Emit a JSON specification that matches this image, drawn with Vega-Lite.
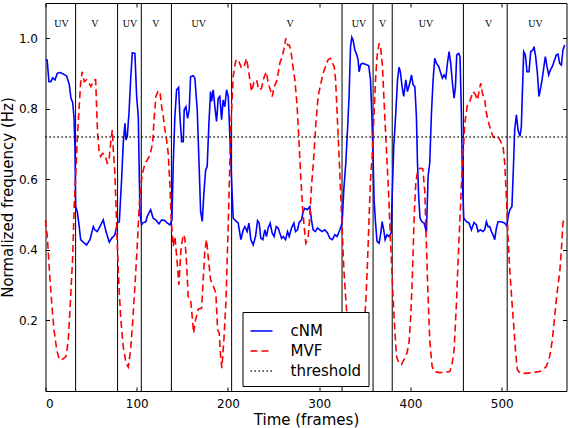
{
  "$schema": "https://vega.github.io/schema/vega-lite/v6.json",
  "width": 521,
  "height": 388,
  "autosize": "none",
  "padding": {"left": 45.5, "top": 3, "right": 1.5, "bottom": 37},
  "background": "white",
  "config": {
    "view": {"stroke": "black", "strokeWidth": 1},
    "font": "DejaVu Sans",
    "axis": {
      "grid": false,
      "domain": false,
      "tickColor": "black",
      "tickSize": -4,
      "tickWidth": 1,
      "labelColor": "black",
      "labelFont": "DejaVu Sans",
      "labelFontSize": 12,
      "titleFont": "DejaVu Sans",
      "titleFontSize": 15,
      "titleFontWeight": "normal",
      "titleColor": "black"
    }
  },
  "datasets": {
    "curves": [
      {"frame": 0, "value": 0.940, "series": "cNM"},
      {"frame": 1.8, "value": 0.938, "series": "cNM"},
      {"frame": 3.8, "value": 0.877, "series": "cNM"},
      {"frame": 6, "value": 0.877, "series": "cNM"},
      {"frame": 7.8, "value": 0.888, "series": "cNM"},
      {"frame": 10.4, "value": 0.882, "series": "cNM"},
      {"frame": 13, "value": 0.901, "series": "cNM"},
      {"frame": 16, "value": 0.903, "series": "cNM"},
      {"frame": 19.5, "value": 0.899, "series": "cNM"},
      {"frame": 23.2, "value": 0.893, "series": "cNM"},
      {"frame": 26.1, "value": 0.868, "series": "cNM"},
      {"frame": 27.9, "value": 0.830, "series": "cNM"},
      {"frame": 29.8, "value": 0.818, "series": "cNM"},
      {"frame": 31.2, "value": 0.778, "series": "cNM"},
      {"frame": 32.3, "value": 0.693, "series": "cNM"},
      {"frame": 33, "value": 0.523, "series": "cNM"},
      {"frame": 34.8, "value": 0.509, "series": "cNM"},
      {"frame": 37, "value": 0.466, "series": "cNM"},
      {"frame": 38.5, "value": 0.429, "series": "cNM"},
      {"frame": 41.4, "value": 0.422, "series": "cNM"},
      {"frame": 45, "value": 0.414, "series": "cNM"},
      {"frame": 48.7, "value": 0.429, "series": "cNM"},
      {"frame": 52.4, "value": 0.466, "series": "cNM"},
      {"frame": 54, "value": 0.457, "series": "cNM"},
      {"frame": 56.7, "value": 0.452, "series": "cNM"},
      {"frame": 59.6, "value": 0.466, "series": "cNM"},
      {"frame": 63.3, "value": 0.485, "series": "cNM"},
      {"frame": 66.3, "value": 0.452, "series": "cNM"},
      {"frame": 69.9, "value": 0.422, "series": "cNM"},
      {"frame": 72.5, "value": 0.433, "series": "cNM"},
      {"frame": 76.1, "value": 0.443, "series": "cNM"},
      {"frame": 78.7, "value": 0.476, "series": "cNM"},
      {"frame": 80.9, "value": 0.480, "series": "cNM"},
      {"frame": 83.4, "value": 0.599, "series": "cNM"},
      {"frame": 85.2, "value": 0.703, "series": "cNM"},
      {"frame": 87.1, "value": 0.759, "series": "cNM"},
      {"frame": 88.2, "value": 0.712, "series": "cNM"},
      {"frame": 89.6, "value": 0.721, "series": "cNM"},
      {"frame": 91.5, "value": 0.788, "series": "cNM"},
      {"frame": 93.3, "value": 0.882, "series": "cNM"},
      {"frame": 95.1, "value": 0.959, "series": "cNM"},
      {"frame": 98, "value": 0.957, "series": "cNM"},
      {"frame": 99.9, "value": 0.835, "series": "cNM"},
      {"frame": 101.7, "value": 0.778, "series": "cNM"},
      {"frame": 103.5, "value": 0.504, "series": "cNM"},
      {"frame": 105.4, "value": 0.471, "series": "cNM"},
      {"frame": 106.4, "value": 0.476, "series": "cNM"},
      {"frame": 110, "value": 0.480, "series": "cNM"},
      {"frame": 111.5, "value": 0.495, "series": "cNM"},
      {"frame": 115.2, "value": 0.514, "series": "cNM"},
      {"frame": 118, "value": 0.490, "series": "cNM"},
      {"frame": 121, "value": 0.485, "series": "cNM"},
      {"frame": 124.3, "value": 0.474, "series": "cNM"},
      {"frame": 127.3, "value": 0.485, "series": "cNM"},
      {"frame": 130.9, "value": 0.483, "series": "cNM"},
      {"frame": 133.4, "value": 0.476, "series": "cNM"},
      {"frame": 136.4, "value": 0.471, "series": "cNM"},
      {"frame": 138.6, "value": 0.485, "series": "cNM"},
      {"frame": 140, "value": 0.646, "series": "cNM"},
      {"frame": 141.8, "value": 0.778, "series": "cNM"},
      {"frame": 143.7, "value": 0.854, "series": "cNM"},
      {"frame": 145.9, "value": 0.861, "series": "cNM"},
      {"frame": 147.3, "value": 0.778, "series": "cNM"},
      {"frame": 149.2, "value": 0.707, "series": "cNM"},
      {"frame": 151, "value": 0.707, "series": "cNM"},
      {"frame": 152, "value": 0.797, "series": "cNM"},
      {"frame": 153.9, "value": 0.806, "series": "cNM"},
      {"frame": 155.7, "value": 0.773, "series": "cNM"},
      {"frame": 157.5, "value": 0.797, "series": "cNM"},
      {"frame": 159, "value": 0.891, "series": "cNM"},
      {"frame": 161.9, "value": 0.894, "series": "cNM"},
      {"frame": 163.7, "value": 0.887, "series": "cNM"},
      {"frame": 166.3, "value": 0.797, "series": "cNM"},
      {"frame": 168.5, "value": 0.627, "series": "cNM"},
      {"frame": 170, "value": 0.509, "series": "cNM"},
      {"frame": 171.8, "value": 0.481, "series": "cNM"},
      {"frame": 173.6, "value": 0.561, "series": "cNM"},
      {"frame": 175.5, "value": 0.627, "series": "cNM"},
      {"frame": 177.2, "value": 0.636, "series": "cNM"},
      {"frame": 179.1, "value": 0.759, "series": "cNM"},
      {"frame": 180.9, "value": 0.849, "series": "cNM"},
      {"frame": 182, "value": 0.821, "series": "cNM"},
      {"frame": 183.8, "value": 0.854, "series": "cNM"},
      {"frame": 185.6, "value": 0.806, "series": "cNM"},
      {"frame": 187.5, "value": 0.764, "series": "cNM"},
      {"frame": 189.3, "value": 0.830, "series": "cNM"},
      {"frame": 191.1, "value": 0.835, "series": "cNM"},
      {"frame": 193, "value": 0.769, "series": "cNM"},
      {"frame": 194.7, "value": 0.825, "series": "cNM"},
      {"frame": 196.5, "value": 0.806, "series": "cNM"},
      {"frame": 198.5, "value": 0.854, "series": "cNM"},
      {"frame": 200.3, "value": 0.835, "series": "cNM"},
      {"frame": 202.1, "value": 0.721, "series": "cNM"},
      {"frame": 203.9, "value": 0.599, "series": "cNM"},
      {"frame": 205.7, "value": 0.490, "series": "cNM"},
      {"frame": 209.4, "value": 0.480, "series": "cNM"},
      {"frame": 211.2, "value": 0.476, "series": "cNM"},
      {"frame": 214.1, "value": 0.429, "series": "cNM"},
      {"frame": 216.7, "value": 0.457, "series": "cNM"},
      {"frame": 218.5, "value": 0.466, "series": "cNM"},
      {"frame": 221, "value": 0.452, "series": "cNM"},
      {"frame": 222.9, "value": 0.476, "series": "cNM"},
      {"frame": 225.1, "value": 0.429, "series": "cNM"},
      {"frame": 227.6, "value": 0.414, "series": "cNM"},
      {"frame": 230.2, "value": 0.438, "series": "cNM"},
      {"frame": 232.4, "value": 0.483, "series": "cNM"},
      {"frame": 234.2, "value": 0.476, "series": "cNM"},
      {"frame": 236, "value": 0.433, "series": "cNM"},
      {"frame": 238.2, "value": 0.429, "series": "cNM"},
      {"frame": 240.4, "value": 0.457, "series": "cNM"},
      {"frame": 242.2, "value": 0.438, "series": "cNM"},
      {"frame": 244, "value": 0.462, "series": "cNM"},
      {"frame": 246.2, "value": 0.476, "series": "cNM"},
      {"frame": 248.4, "value": 0.448, "series": "cNM"},
      {"frame": 250.6, "value": 0.438, "series": "cNM"},
      {"frame": 252.8, "value": 0.466, "series": "cNM"},
      {"frame": 255, "value": 0.462, "series": "cNM"},
      {"frame": 256.8, "value": 0.448, "series": "cNM"},
      {"frame": 258.7, "value": 0.433, "series": "cNM"},
      {"frame": 260.5, "value": 0.438, "series": "cNM"},
      {"frame": 263.1, "value": 0.429, "series": "cNM"},
      {"frame": 265.3, "value": 0.452, "series": "cNM"},
      {"frame": 267.1, "value": 0.438, "series": "cNM"},
      {"frame": 269.6, "value": 0.462, "series": "cNM"},
      {"frame": 272.2, "value": 0.476, "series": "cNM"},
      {"frame": 274, "value": 0.452, "series": "cNM"},
      {"frame": 276.2, "value": 0.457, "series": "cNM"},
      {"frame": 278, "value": 0.478, "series": "cNM"},
      {"frame": 280.6, "value": 0.485, "series": "cNM"},
      {"frame": 282.4, "value": 0.509, "series": "cNM"},
      {"frame": 284.2, "value": 0.518, "series": "cNM"},
      {"frame": 287.1, "value": 0.514, "series": "cNM"},
      {"frame": 289.7, "value": 0.523, "series": "cNM"},
      {"frame": 291.5, "value": 0.485, "series": "cNM"},
      {"frame": 293.3, "value": 0.457, "series": "cNM"},
      {"frame": 295.8, "value": 0.452, "series": "cNM"},
      {"frame": 298, "value": 0.462, "series": "cNM"},
      {"frame": 300.6, "value": 0.457, "series": "cNM"},
      {"frame": 303.2, "value": 0.452, "series": "cNM"},
      {"frame": 306.1, "value": 0.457, "series": "cNM"},
      {"frame": 309.1, "value": 0.448, "series": "cNM"},
      {"frame": 311.6, "value": 0.433, "series": "cNM"},
      {"frame": 314.4, "value": 0.429, "series": "cNM"},
      {"frame": 317.1, "value": 0.443, "series": "cNM"},
      {"frame": 319.6, "value": 0.438, "series": "cNM"},
      {"frame": 322.6, "value": 0.457, "series": "cNM"},
      {"frame": 325.1, "value": 0.476, "series": "cNM"},
      {"frame": 326.9, "value": 0.570, "series": "cNM"},
      {"frame": 329.1, "value": 0.646, "series": "cNM"},
      {"frame": 331, "value": 0.740, "series": "cNM"},
      {"frame": 332.7, "value": 0.835, "series": "cNM"},
      {"frame": 334.3, "value": 0.976, "series": "cNM"},
      {"frame": 335.7, "value": 1.003, "series": "cNM"},
      {"frame": 337.1, "value": 0.995, "series": "cNM"},
      {"frame": 339, "value": 0.967, "series": "cNM"},
      {"frame": 340.9, "value": 0.955, "series": "cNM"},
      {"frame": 342.6, "value": 0.939, "series": "cNM"},
      {"frame": 343.7, "value": 0.905, "series": "cNM"},
      {"frame": 345.5, "value": 0.926, "series": "cNM"},
      {"frame": 347.3, "value": 0.929, "series": "cNM"},
      {"frame": 351, "value": 0.926, "series": "cNM"},
      {"frame": 354.3, "value": 0.922, "series": "cNM"},
      {"frame": 356.2, "value": 0.882, "series": "cNM"},
      {"frame": 357.6, "value": 0.788, "series": "cNM"},
      {"frame": 359, "value": 0.665, "series": "cNM"},
      {"frame": 360.1, "value": 0.542, "series": "cNM"},
      {"frame": 361.7, "value": 0.476, "series": "cNM"},
      {"frame": 363.4, "value": 0.424, "series": "cNM"},
      {"frame": 365.6, "value": 0.419, "series": "cNM"},
      {"frame": 367.5, "value": 0.448, "series": "cNM"},
      {"frame": 368.9, "value": 0.480, "series": "cNM"},
      {"frame": 370.7, "value": 0.457, "series": "cNM"},
      {"frame": 372.2, "value": 0.429, "series": "cNM"},
      {"frame": 374.3, "value": 0.443, "series": "cNM"},
      {"frame": 376.5, "value": 0.438, "series": "cNM"},
      {"frame": 378.8, "value": 0.448, "series": "cNM"},
      {"frame": 379.9, "value": 0.551, "series": "cNM"},
      {"frame": 381.7, "value": 0.693, "series": "cNM"},
      {"frame": 383.9, "value": 0.788, "series": "cNM"},
      {"frame": 385.8, "value": 0.882, "series": "cNM"},
      {"frame": 387.5, "value": 0.918, "series": "cNM"},
      {"frame": 388.9, "value": 0.905, "series": "cNM"},
      {"frame": 390.8, "value": 0.863, "series": "cNM"},
      {"frame": 392.6, "value": 0.835, "series": "cNM"},
      {"frame": 394.9, "value": 0.882, "series": "cNM"},
      {"frame": 396.7, "value": 0.849, "series": "cNM"},
      {"frame": 399.3, "value": 0.873, "series": "cNM"},
      {"frame": 401.1, "value": 0.896, "series": "cNM"},
      {"frame": 402.9, "value": 0.868, "series": "cNM"},
      {"frame": 404.8, "value": 0.863, "series": "cNM"},
      {"frame": 406.5, "value": 0.778, "series": "cNM"},
      {"frame": 407.6, "value": 0.655, "series": "cNM"},
      {"frame": 409, "value": 0.550, "series": "cNM"},
      {"frame": 410.5, "value": 0.490, "series": "cNM"},
      {"frame": 412.4, "value": 0.480, "series": "cNM"},
      {"frame": 414.9, "value": 0.476, "series": "cNM"},
      {"frame": 417.5, "value": 0.451, "series": "cNM"},
      {"frame": 419.3, "value": 0.608, "series": "cNM"},
      {"frame": 421.1, "value": 0.646, "series": "cNM"},
      {"frame": 423, "value": 0.788, "series": "cNM"},
      {"frame": 424.8, "value": 0.882, "series": "cNM"},
      {"frame": 426.6, "value": 0.943, "series": "cNM"},
      {"frame": 428.5, "value": 0.929, "series": "cNM"},
      {"frame": 431, "value": 0.920, "series": "cNM"},
      {"frame": 433.2, "value": 0.901, "series": "cNM"},
      {"frame": 435, "value": 0.887, "series": "cNM"},
      {"frame": 436.8, "value": 0.896, "series": "cNM"},
      {"frame": 438.7, "value": 0.887, "series": "cNM"},
      {"frame": 440.5, "value": 0.929, "series": "cNM"},
      {"frame": 442.3, "value": 0.962, "series": "cNM"},
      {"frame": 444.1, "value": 0.929, "series": "cNM"},
      {"frame": 446, "value": 0.873, "series": "cNM"},
      {"frame": 447.8, "value": 0.830, "series": "cNM"},
      {"frame": 449.3, "value": 0.863, "series": "cNM"},
      {"frame": 450.7, "value": 0.953, "series": "cNM"},
      {"frame": 452.9, "value": 0.957, "series": "cNM"},
      {"frame": 454.3, "value": 0.948, "series": "cNM"},
      {"frame": 455.8, "value": 0.788, "series": "cNM"},
      {"frame": 456.9, "value": 0.599, "series": "cNM"},
      {"frame": 458.4, "value": 0.490, "series": "cNM"},
      {"frame": 461.3, "value": 0.480, "series": "cNM"},
      {"frame": 464.2, "value": 0.476, "series": "cNM"},
      {"frame": 466.8, "value": 0.457, "series": "cNM"},
      {"frame": 469.7, "value": 0.478, "series": "cNM"},
      {"frame": 472.3, "value": 0.471, "series": "cNM"},
      {"frame": 474, "value": 0.452, "series": "cNM"},
      {"frame": 476.6, "value": 0.457, "series": "cNM"},
      {"frame": 479.5, "value": 0.452, "series": "cNM"},
      {"frame": 481.3, "value": 0.457, "series": "cNM"},
      {"frame": 483.2, "value": 0.480, "series": "cNM"},
      {"frame": 485, "value": 0.466, "series": "cNM"},
      {"frame": 486.8, "value": 0.466, "series": "cNM"},
      {"frame": 488.7, "value": 0.452, "series": "cNM"},
      {"frame": 490.5, "value": 0.443, "series": "cNM"},
      {"frame": 492.3, "value": 0.429, "series": "cNM"},
      {"frame": 494.2, "value": 0.462, "series": "cNM"},
      {"frame": 496, "value": 0.480, "series": "cNM"},
      {"frame": 499, "value": 0.480, "series": "cNM"},
      {"frame": 501.5, "value": 0.478, "series": "cNM"},
      {"frame": 503.3, "value": 0.476, "series": "cNM"},
      {"frame": 505.5, "value": 0.468, "series": "cNM"},
      {"frame": 507.5, "value": 0.500, "series": "cNM"},
      {"frame": 509, "value": 0.514, "series": "cNM"},
      {"frame": 511.2, "value": 0.523, "series": "cNM"},
      {"frame": 513, "value": 0.646, "series": "cNM"},
      {"frame": 514.2, "value": 0.740, "series": "cNM"},
      {"frame": 516.1, "value": 0.783, "series": "cNM"},
      {"frame": 517.9, "value": 0.740, "series": "cNM"},
      {"frame": 520, "value": 0.722, "series": "cNM"},
      {"frame": 521.5, "value": 0.749, "series": "cNM"},
      {"frame": 522.5, "value": 0.835, "series": "cNM"},
      {"frame": 524.1, "value": 0.962, "series": "cNM"},
      {"frame": 525.9, "value": 0.953, "series": "cNM"},
      {"frame": 527.7, "value": 0.905, "series": "cNM"},
      {"frame": 529.9, "value": 0.905, "series": "cNM"},
      {"frame": 531.8, "value": 0.962, "series": "cNM"},
      {"frame": 534.3, "value": 0.967, "series": "cNM"},
      {"frame": 535.4, "value": 0.976, "series": "cNM"},
      {"frame": 537.2, "value": 0.948, "series": "cNM"},
      {"frame": 539.1, "value": 0.901, "series": "cNM"},
      {"frame": 540.8, "value": 0.835, "series": "cNM"},
      {"frame": 542.3, "value": 0.854, "series": "cNM"},
      {"frame": 544.2, "value": 0.882, "series": "cNM"},
      {"frame": 546, "value": 0.915, "series": "cNM"},
      {"frame": 547.8, "value": 0.948, "series": "cNM"},
      {"frame": 549.6, "value": 0.920, "series": "cNM"},
      {"frame": 551.5, "value": 0.896, "series": "cNM"},
      {"frame": 553.3, "value": 0.910, "series": "cNM"},
      {"frame": 555.5, "value": 0.920, "series": "cNM"},
      {"frame": 557.3, "value": 0.934, "series": "cNM"},
      {"frame": 559.9, "value": 0.953, "series": "cNM"},
      {"frame": 561.7, "value": 0.955, "series": "cNM"},
      {"frame": 563.5, "value": 0.929, "series": "cNM"},
      {"frame": 565.4, "value": 0.924, "series": "cNM"},
      {"frame": 567.1, "value": 0.967, "series": "cNM"},
      {"frame": 569, "value": 0.981, "series": "cNM"},

      {"frame": 0, "value": 0.485, "series": "MVF"},
      {"frame": 2, "value": 0.438, "series": "MVF"},
      {"frame": 4.2, "value": 0.344, "series": "MVF"},
      {"frame": 6.8, "value": 0.249, "series": "MVF"},
      {"frame": 9.3, "value": 0.174, "series": "MVF"},
      {"frame": 12.3, "value": 0.117, "series": "MVF"},
      {"frame": 15.1, "value": 0.089, "series": "MVF"},
      {"frame": 18.8, "value": 0.090, "series": "MVF"},
      {"frame": 22.5, "value": 0.098, "series": "MVF"},
      {"frame": 25, "value": 0.145, "series": "MVF"},
      {"frame": 27.6, "value": 0.268, "series": "MVF"},
      {"frame": 29.8, "value": 0.381, "series": "MVF"},
      {"frame": 31.6, "value": 0.533, "series": "MVF"},
      {"frame": 33.4, "value": 0.627, "series": "MVF"},
      {"frame": 34.8, "value": 0.712, "series": "MVF"},
      {"frame": 36.7, "value": 0.797, "series": "MVF"},
      {"frame": 38.5, "value": 0.873, "series": "MVF"},
      {"frame": 40.2, "value": 0.905, "series": "MVF"},
      {"frame": 42.5, "value": 0.877, "series": "MVF"},
      {"frame": 45, "value": 0.882, "series": "MVF"},
      {"frame": 47.6, "value": 0.873, "series": "MVF"},
      {"frame": 49.8, "value": 0.863, "series": "MVF"},
      {"frame": 51.6, "value": 0.873, "series": "MVF"},
      {"frame": 53.1, "value": 0.882, "series": "MVF"},
      {"frame": 55, "value": 0.882, "series": "MVF"},
      {"frame": 56.1, "value": 0.797, "series": "MVF"},
      {"frame": 57.1, "value": 0.731, "series": "MVF"},
      {"frame": 58.9, "value": 0.674, "series": "MVF"},
      {"frame": 60.4, "value": 0.665, "series": "MVF"},
      {"frame": 62.6, "value": 0.674, "series": "MVF"},
      {"frame": 65.1, "value": 0.670, "series": "MVF"},
      {"frame": 67.7, "value": 0.646, "series": "MVF"},
      {"frame": 69.5, "value": 0.651, "series": "MVF"},
      {"frame": 71.4, "value": 0.703, "series": "MVF"},
      {"frame": 73.2, "value": 0.740, "series": "MVF"},
      {"frame": 74.3, "value": 0.684, "series": "MVF"},
      {"frame": 75.8, "value": 0.627, "series": "MVF"},
      {"frame": 77.2, "value": 0.533, "series": "MVF"},
      {"frame": 78.6, "value": 0.419, "series": "MVF"},
      {"frame": 80.2, "value": 0.315, "series": "MVF"},
      {"frame": 82.3, "value": 0.211, "series": "MVF"},
      {"frame": 85.2, "value": 0.126, "series": "MVF"},
      {"frame": 88.2, "value": 0.079, "series": "MVF"},
      {"frame": 90.7, "value": 0.068, "series": "MVF"},
      {"frame": 93.3, "value": 0.117, "series": "MVF"},
      {"frame": 95.5, "value": 0.193, "series": "MVF"},
      {"frame": 98, "value": 0.296, "series": "MVF"},
      {"frame": 100.5, "value": 0.410, "series": "MVF"},
      {"frame": 102.7, "value": 0.523, "series": "MVF"},
      {"frame": 104.3, "value": 0.580, "series": "MVF"},
      {"frame": 106.5, "value": 0.618, "series": "MVF"},
      {"frame": 109, "value": 0.646, "series": "MVF"},
      {"frame": 111.5, "value": 0.655, "series": "MVF"},
      {"frame": 114.5, "value": 0.669, "series": "MVF"},
      {"frame": 117.4, "value": 0.703, "series": "MVF"},
      {"frame": 119.2, "value": 0.778, "series": "MVF"},
      {"frame": 121, "value": 0.835, "series": "MVF"},
      {"frame": 123.5, "value": 0.851, "series": "MVF"},
      {"frame": 125.4, "value": 0.849, "series": "MVF"},
      {"frame": 127.3, "value": 0.806, "series": "MVF"},
      {"frame": 129.1, "value": 0.778, "series": "MVF"},
      {"frame": 130.9, "value": 0.740, "series": "MVF"},
      {"frame": 132.7, "value": 0.712, "series": "MVF"},
      {"frame": 134.5, "value": 0.674, "series": "MVF"},
      {"frame": 136.4, "value": 0.580, "series": "MVF"},
      {"frame": 137.8, "value": 0.485, "series": "MVF"},
      {"frame": 140, "value": 0.410, "series": "MVF"},
      {"frame": 141.8, "value": 0.438, "series": "MVF"},
      {"frame": 144.4, "value": 0.363, "series": "MVF"},
      {"frame": 146.2, "value": 0.301, "series": "MVF"},
      {"frame": 148.4, "value": 0.400, "series": "MVF"},
      {"frame": 150.9, "value": 0.443, "series": "MVF"},
      {"frame": 152.7, "value": 0.434, "series": "MVF"},
      {"frame": 154.6, "value": 0.363, "series": "MVF"},
      {"frame": 156.4, "value": 0.268, "series": "MVF"},
      {"frame": 159, "value": 0.259, "series": "MVF"},
      {"frame": 160.8, "value": 0.211, "series": "MVF"},
      {"frame": 162.3, "value": 0.164, "series": "MVF"},
      {"frame": 164.5, "value": 0.202, "series": "MVF"},
      {"frame": 167.4, "value": 0.232, "series": "MVF"},
      {"frame": 171.1, "value": 0.235, "series": "MVF"},
      {"frame": 172.8, "value": 0.315, "series": "MVF"},
      {"frame": 174.7, "value": 0.400, "series": "MVF"},
      {"frame": 176.5, "value": 0.429, "series": "MVF"},
      {"frame": 178.3, "value": 0.381, "series": "MVF"},
      {"frame": 180.9, "value": 0.315, "series": "MVF"},
      {"frame": 183.8, "value": 0.298, "series": "MVF"},
      {"frame": 186.7, "value": 0.278, "series": "MVF"},
      {"frame": 188.6, "value": 0.174, "series": "MVF"},
      {"frame": 190.4, "value": 0.164, "series": "MVF"},
      {"frame": 192.2, "value": 0.089, "series": "MVF"},
      {"frame": 193.3, "value": 0.065, "series": "MVF"},
      {"frame": 195.5, "value": 0.145, "series": "MVF"},
      {"frame": 197.7, "value": 0.249, "series": "MVF"},
      {"frame": 199.9, "value": 0.438, "series": "MVF"},
      {"frame": 201.3, "value": 0.570, "series": "MVF"},
      {"frame": 203.2, "value": 0.759, "series": "MVF"},
      {"frame": 205.7, "value": 0.891, "series": "MVF"},
      {"frame": 208.3, "value": 0.934, "series": "MVF"},
      {"frame": 210, "value": 0.941, "series": "MVF"},
      {"frame": 212, "value": 0.934, "series": "MVF"},
      {"frame": 214.9, "value": 0.915, "series": "MVF"},
      {"frame": 217.7, "value": 0.920, "series": "MVF"},
      {"frame": 220.3, "value": 0.943, "series": "MVF"},
      {"frame": 222.1, "value": 0.915, "series": "MVF"},
      {"frame": 224, "value": 0.882, "series": "MVF"},
      {"frame": 225.8, "value": 0.849, "series": "MVF"},
      {"frame": 228.7, "value": 0.877, "series": "MVF"},
      {"frame": 231.3, "value": 0.882, "series": "MVF"},
      {"frame": 233.8, "value": 0.854, "series": "MVF"},
      {"frame": 236.7, "value": 0.858, "series": "MVF"},
      {"frame": 239.7, "value": 0.891, "series": "MVF"},
      {"frame": 242.2, "value": 0.905, "series": "MVF"},
      {"frame": 244, "value": 0.873, "series": "MVF"},
      {"frame": 247, "value": 0.849, "series": "MVF"},
      {"frame": 248.4, "value": 0.835, "series": "MVF"},
      {"frame": 250.6, "value": 0.863, "series": "MVF"},
      {"frame": 253.2, "value": 0.877, "series": "MVF"},
      {"frame": 255, "value": 0.901, "series": "MVF"},
      {"frame": 256.8, "value": 0.929, "series": "MVF"},
      {"frame": 259.4, "value": 0.948, "series": "MVF"},
      {"frame": 261.6, "value": 0.972, "series": "MVF"},
      {"frame": 263.4, "value": 1.000, "series": "MVF"},
      {"frame": 265.3, "value": 0.981, "series": "MVF"},
      {"frame": 267.1, "value": 0.981, "series": "MVF"},
      {"frame": 268.9, "value": 0.967, "series": "MVF"},
      {"frame": 270.7, "value": 0.929, "series": "MVF"},
      {"frame": 273.3, "value": 0.882, "series": "MVF"},
      {"frame": 275.8, "value": 0.806, "series": "MVF"},
      {"frame": 277.7, "value": 0.712, "series": "MVF"},
      {"frame": 279.5, "value": 0.618, "series": "MVF"},
      {"frame": 281.7, "value": 0.523, "series": "MVF"},
      {"frame": 283.5, "value": 0.466, "series": "MVF"},
      {"frame": 285.3, "value": 0.419, "series": "MVF"},
      {"frame": 287.8, "value": 0.433, "series": "MVF"},
      {"frame": 289.7, "value": 0.495, "series": "MVF"},
      {"frame": 291.5, "value": 0.580, "series": "MVF"},
      {"frame": 294.1, "value": 0.665, "series": "MVF"},
      {"frame": 296.3, "value": 0.759, "series": "MVF"},
      {"frame": 298.8, "value": 0.835, "series": "MVF"},
      {"frame": 301.8, "value": 0.873, "series": "MVF"},
      {"frame": 304.3, "value": 0.901, "series": "MVF"},
      {"frame": 306.9, "value": 0.920, "series": "MVF"},
      {"frame": 309.7, "value": 0.939, "series": "MVF"},
      {"frame": 312.3, "value": 0.943, "series": "MVF"},
      {"frame": 314.5, "value": 0.929, "series": "MVF"},
      {"frame": 316.4, "value": 0.920, "series": "MVF"},
      {"frame": 318, "value": 0.880, "series": "MVF"},
      {"frame": 319.6, "value": 0.788, "series": "MVF"},
      {"frame": 321.8, "value": 0.665, "series": "MVF"},
      {"frame": 323.6, "value": 0.551, "series": "MVF"},
      {"frame": 325.5, "value": 0.438, "series": "MVF"},
      {"frame": 327, "value": 0.344, "series": "MVF"},
      {"frame": 328.9, "value": 0.268, "series": "MVF"},
      {"frame": 331, "value": 0.190, "series": "MVF"},
      {"frame": 334, "value": 0.110, "series": "MVF"},
      {"frame": 338, "value": 0.070, "series": "MVF"},
      {"frame": 343, "value": 0.070, "series": "MVF"},
      {"frame": 347, "value": 0.120, "series": "MVF"},
      {"frame": 351, "value": 0.249, "series": "MVF"},
      {"frame": 352.9, "value": 0.363, "series": "MVF"},
      {"frame": 354.7, "value": 0.495, "series": "MVF"},
      {"frame": 356.2, "value": 0.599, "series": "MVF"},
      {"frame": 358, "value": 0.665, "series": "MVF"},
      {"frame": 359.8, "value": 0.769, "series": "MVF"},
      {"frame": 361.7, "value": 0.882, "series": "MVF"},
      {"frame": 363.4, "value": 0.948, "series": "MVF"},
      {"frame": 365.6, "value": 0.986, "series": "MVF"},
      {"frame": 367.5, "value": 0.970, "series": "MVF"},
      {"frame": 369.3, "value": 0.920, "series": "MVF"},
      {"frame": 370.8, "value": 0.835, "series": "MVF"},
      {"frame": 372.6, "value": 0.740, "series": "MVF"},
      {"frame": 374.4, "value": 0.646, "series": "MVF"},
      {"frame": 376.2, "value": 0.551, "series": "MVF"},
      {"frame": 377.3, "value": 0.476, "series": "MVF"},
      {"frame": 379.2, "value": 0.363, "series": "MVF"},
      {"frame": 380.9, "value": 0.268, "series": "MVF"},
      {"frame": 382.8, "value": 0.174, "series": "MVF"},
      {"frame": 384.7, "value": 0.098, "series": "MVF"},
      {"frame": 387.2, "value": 0.079, "series": "MVF"},
      {"frame": 390, "value": 0.075, "series": "MVF"},
      {"frame": 393.7, "value": 0.093, "series": "MVF"},
      {"frame": 396.2, "value": 0.108, "series": "MVF"},
      {"frame": 398.4, "value": 0.136, "series": "MVF"},
      {"frame": 400.3, "value": 0.211, "series": "MVF"},
      {"frame": 401.8, "value": 0.306, "series": "MVF"},
      {"frame": 403, "value": 0.405, "series": "MVF"},
      {"frame": 404, "value": 0.490, "series": "MVF"},
      {"frame": 405.8, "value": 0.589, "series": "MVF"},
      {"frame": 408, "value": 0.627, "series": "MVF"},
      {"frame": 411, "value": 0.632, "series": "MVF"},
      {"frame": 413.5, "value": 0.630, "series": "MVF"},
      {"frame": 415.7, "value": 0.565, "series": "MVF"},
      {"frame": 417.5, "value": 0.410, "series": "MVF"},
      {"frame": 419.3, "value": 0.268, "series": "MVF"},
      {"frame": 421.1, "value": 0.145, "series": "MVF"},
      {"frame": 423.7, "value": 0.070, "series": "MVF"},
      {"frame": 426, "value": 0.055, "series": "MVF"},
      {"frame": 432, "value": 0.052, "series": "MVF"},
      {"frame": 438, "value": 0.053, "series": "MVF"},
      {"frame": 443, "value": 0.055, "series": "MVF"},
      {"frame": 445.5, "value": 0.075, "series": "MVF"},
      {"frame": 447.8, "value": 0.117, "series": "MVF"},
      {"frame": 450.4, "value": 0.249, "series": "MVF"},
      {"frame": 452.1, "value": 0.363, "series": "MVF"},
      {"frame": 454, "value": 0.476, "series": "MVF"},
      {"frame": 455.8, "value": 0.580, "series": "MVF"},
      {"frame": 457.6, "value": 0.665, "series": "MVF"},
      {"frame": 459.5, "value": 0.759, "series": "MVF"},
      {"frame": 462.4, "value": 0.811, "series": "MVF"},
      {"frame": 465, "value": 0.821, "series": "MVF"},
      {"frame": 466.8, "value": 0.835, "series": "MVF"},
      {"frame": 468.6, "value": 0.849, "series": "MVF"},
      {"frame": 471.2, "value": 0.840, "series": "MVF"},
      {"frame": 473.4, "value": 0.825, "series": "MVF"},
      {"frame": 475.1, "value": 0.849, "series": "MVF"},
      {"frame": 477, "value": 0.873, "series": "MVF"},
      {"frame": 478.8, "value": 0.844, "series": "MVF"},
      {"frame": 481.4, "value": 0.825, "series": "MVF"},
      {"frame": 483.2, "value": 0.788, "series": "MVF"},
      {"frame": 485.8, "value": 0.759, "series": "MVF"},
      {"frame": 488, "value": 0.740, "series": "MVF"},
      {"frame": 490.5, "value": 0.721, "series": "MVF"},
      {"frame": 493, "value": 0.717, "series": "MVF"},
      {"frame": 496, "value": 0.721, "series": "MVF"},
      {"frame": 498.9, "value": 0.707, "series": "MVF"},
      {"frame": 501.5, "value": 0.693, "series": "MVF"},
      {"frame": 503.3, "value": 0.646, "series": "MVF"},
      {"frame": 505.1, "value": 0.551, "series": "MVF"},
      {"frame": 506.9, "value": 0.438, "series": "MVF"},
      {"frame": 508.8, "value": 0.344, "series": "MVF"},
      {"frame": 511.3, "value": 0.249, "series": "MVF"},
      {"frame": 513.5, "value": 0.174, "series": "MVF"},
      {"frame": 515.3, "value": 0.108, "series": "MVF"},
      {"frame": 517.2, "value": 0.060, "series": "MVF"},
      {"frame": 520, "value": 0.051, "series": "MVF"},
      {"frame": 525.2, "value": 0.050, "series": "MVF"},
      {"frame": 534, "value": 0.052, "series": "MVF"},
      {"frame": 541.6, "value": 0.055, "series": "MVF"},
      {"frame": 545.2, "value": 0.060, "series": "MVF"},
      {"frame": 549, "value": 0.070, "series": "MVF"},
      {"frame": 552.6, "value": 0.098, "series": "MVF"},
      {"frame": 555.5, "value": 0.145, "series": "MVF"},
      {"frame": 558, "value": 0.211, "series": "MVF"},
      {"frame": 560.6, "value": 0.278, "series": "MVF"},
      {"frame": 563.5, "value": 0.334, "series": "MVF"},
      {"frame": 565.4, "value": 0.400, "series": "MVF"},
      {"frame": 567.1, "value": 0.476, "series": "MVF"},
      {"frame": 568.5, "value": 0.490, "series": "MVF"},

      {"frame": 0, "value": 0.72, "series": "threshold"},
      {"frame": 571, "value": 0.72, "series": "threshold"}
    ],
    "boundaries": [
      {"frame": 33}, {"frame": 79}, {"frame": 105}, {"frame": 138}, {"frame": 204},
      {"frame": 325}, {"frame": 359}, {"frame": 380}, {"frame": 458}, {"frame": 506}
    ],
    "phases": [
      {"frame": 17.5, "phase": "UV"},
      {"frame": 54, "phase": "V"},
      {"frame": 92.5, "phase": "UV"},
      {"frame": 121, "phase": "V"},
      {"frame": 168, "phase": "UV"},
      {"frame": 268, "phase": "V"},
      {"frame": 343.5, "phase": "UV"},
      {"frame": 369.5, "phase": "V"},
      {"frame": 417, "phase": "UV"},
      {"frame": 485.5, "phase": "V"},
      {"frame": 537, "phase": "UV"}
    ]
  },
  "resolve": {"axis": {"x": "independent", "y": "independent"}},
  "layer": [
    {
      "data": {"name": "boundaries"},
      "mark": {"type": "rule", "color": "black", "strokeWidth": 1},
      "encoding": {
        "x": {
          "field": "frame", "type": "quantitative",
          "scale": {"domain": [0, 571], "nice": false, "zero": false},
          "axis": {"orient": "top", "labels": false, "title": null, "values": [0, 100, 200, 300, 400, 500]}
        }
      }
    },
    {
      "data": {"name": "curves"},
      "mark": {"type": "line", "interpolate": "linear"},
      "encoding": {
        "x": {
          "field": "frame", "type": "quantitative",
          "scale": {"domain": [0, 571], "nice": false, "zero": false},
          "axis": {"orient": "bottom", "title": "Time (frames)", "values": [0, 100, 200, 300, 400, 500], "labelPadding": 11, "titlePadding": 3}
        },
        "y": {
          "field": "value", "type": "quantitative",
          "scale": {"domain": [0, 1.1], "nice": false, "zero": false},
          "axis": {"orient": "left", "title": "Normalized frequency (Hz)", "values": [0.2, 0.4, 0.6, 0.8, 1.0], "format": ".1f", "labelPadding": 12, "titlePadding": 3}
        },
        "color": {
          "field": "series", "type": "nominal",
          "scale": {"domain": ["cNM", "MVF", "threshold"], "range": ["#0000ff", "#ff0000", "#000000"]},
          "legend": {
            "orient": "none", "legendX": 197, "legendY": 309, "title": null,
            "symbolType": "stroke", "symbolSize": 484, "symbolStrokeWidth": 1.5,
            "labelFont": "DejaVu Sans", "labelFontSize": 15, "labelColor": "black", "labelOffset": 17,
            "fillColor": "white", "strokeColor": "black", "padding": 7, "rowPadding": 0
          }
        },
        "strokeDash": {
          "field": "series", "type": "nominal",
          "scale": {"domain": ["cNM", "MVF", "threshold"], "range": [[1, 0], [7, 4], [1.3, 2.7]]},
          "legend": {
            "orient": "none", "legendX": 197, "legendY": 309, "title": null,
            "symbolType": "stroke", "symbolSize": 484, "symbolStrokeWidth": 1.5,
            "labelFont": "DejaVu Sans", "labelFontSize": 15, "labelColor": "black", "labelOffset": 17,
            "fillColor": "white", "strokeColor": "black", "padding": 7, "rowPadding": 0
          }
        },
        "strokeWidth": {
          "field": "series", "type": "nominal",
          "scale": {"domain": ["cNM", "MVF", "threshold"], "range": [1.6, 1.6, 1.3]},
          "legend": null
        }
      }
    },
    {
      "data": {"name": "phases"},
      "mark": {"type": "text", "font": "Liberation Serif", "fontSize": 10, "color": "black", "baseline": "middle", "align": "center"},
      "encoding": {
        "x": {"field": "frame", "type": "quantitative", "axis": null},
        "y": {
          "datum": 1.04, "type": "quantitative",
          "axis": {"orient": "right", "labels": false, "title": null, "values": [0.2, 0.4, 0.6, 0.8, 1.0]}
        },
        "text": {"field": "phase"}
      }
    }
  ]
}
